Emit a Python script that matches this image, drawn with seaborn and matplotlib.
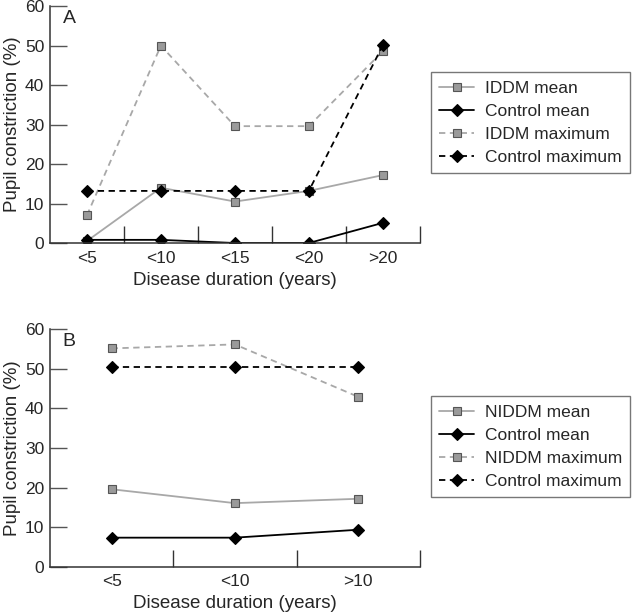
import numpy as np
import pandas as pd
import matplotlib
matplotlib.use("Agg")
import matplotlib.pyplot as plt
import seaborn as sns

# ---- data ----
dur_a = ["<5", "<10", "<15", "<20", ">20"]
iddm_mean = [0.5, 14.0, 10.5, 13.2, 17.2]
ctrl_mean_a = [0.8, 0.8, 0.0, 0.0, 5.1]
iddm_max = [7.0, 50.0, 29.6, 29.6, 48.6]
ctrl_max_a = [13.2, 13.2, 13.2, 13.2, 50.1]

dur_b = ["<5", "<10", ">10"]
niddm_mean = [19.6, 16.1, 17.2]
ctrl_mean_b = [7.4, 7.4, 9.4]
niddm_max = [55.1, 56.1, 42.9]
ctrl_max_b = [50.3, 50.3, 50.3]

sns.set_theme(style="white")
plt.rcParams["font.family"] = ["Liberation Sans", "DejaVu Sans"]

GREY_LINE = "#a8a8a8"
SQ_FACE = "#9a9a9a"
SQ_EDGE = "#555555"


def draw_panel(ax, cats, series, letter, xpad=6):
    x = np.arange(len(cats))
    styles = [
        dict(color=GREY_LINE, linestyle="-", marker="s", mfc=SQ_FACE, mec=SQ_EDGE),
        dict(color="black", linestyle="-", marker="D", mfc="black", mec="black"),
        dict(color=GREY_LINE, linestyle=(0, (3.5, 2.5)), marker="s", mfc=SQ_FACE, mec=SQ_EDGE),
        dict(color="black", linestyle=(0, (3.5, 2.5)), marker="D", mfc="black", mec="black"),
    ]
    for (name, vals), st in zip(series, styles):
        df = pd.DataFrame({"x": x, "y": vals})
        ms = 6.3 if st["marker"] == "s" else 6.3
        sns.lineplot(data=df, x="x", y="y", ax=ax, label=name,
                     color=st["color"], linestyle=st["linestyle"], linewidth=1.3,
                     marker=st["marker"], markersize=ms,
                     markerfacecolor=st["mfc"], markeredgecolor=st["mec"],
                     markeredgewidth=0.8)
    ax.set_xlim(-0.5, len(cats) - 0.5)
    ax.set_ylim(0, 60)
    ax.set_yticks(range(0, 61, 10))
    ax.set_xticks(x)
    ax.set_xticklabels(cats)
    ax.set_xticks(np.arange(0.5, len(cats), 1.0), minor=True)
    ax.tick_params(axis="x", which="major", length=0, labelsize=12.5, pad=xpad)
    ax.tick_params(axis="x", which="minor", direction="in", length=12,
                   width=1, color="#333333", bottom=True)
    ax.tick_params(axis="y", direction="in", length=12, width=1,
                   color="#555555", labelsize=12.5, left=True, pad=4)
    for s in ["top", "right"]:
        ax.spines[s].set_visible(False)
    for s in ["left", "bottom"]:
        ax.spines[s].set_color("#333333")
        ax.spines[s].set_linewidth(1.1)
    ax.set_xlabel("Disease duration (years)", fontsize=13.5, labelpad=4)
    ax.set_ylabel("Pupil constriction (%)", fontsize=13.5, labelpad=3)
    ax.text(0.035, 0.985, letter, transform=ax.transAxes, fontsize=14,
            ha="left", va="top")
    ax.set_facecolor("white")


fig = plt.figure(figsize=(6.4, 6.16), dpi=100)
ax_a = fig.add_axes([0.078, 0.6055, 0.578, 0.3845])
ax_b = fig.add_axes([0.078, 0.0795, 0.578, 0.3865])

draw_panel(ax_a, dur_a, [("IDDM mean", iddm_mean), ("Control mean", ctrl_mean_a),
                         ("IDDM maximum", iddm_max), ("Control maximum", ctrl_max_a)], "A")
draw_panel(ax_b, dur_b, [("NIDDM mean", niddm_mean), ("Control mean", ctrl_mean_b),
                         ("NIDDM maximum", niddm_max), ("Control maximum", ctrl_max_b)], "B",
           xpad=5)

for ax, anchor in [(ax_a, (0.673, 0.883)), (ax_b, (0.673, 0.357))]:
    leg = ax.legend(loc="upper left", bbox_to_anchor=anchor,
                    bbox_transform=fig.transFigure, fontsize=12.5, frameon=True,
                    fancybox=False, edgecolor="#555555", handlelength=2.0,
                    handletextpad=0.6, labelspacing=0.45, borderpad=0.5,
                    borderaxespad=0)
    leg.get_frame().set_linewidth(1.0)

fig.savefig("out.png", dpi=100, facecolor="white")
